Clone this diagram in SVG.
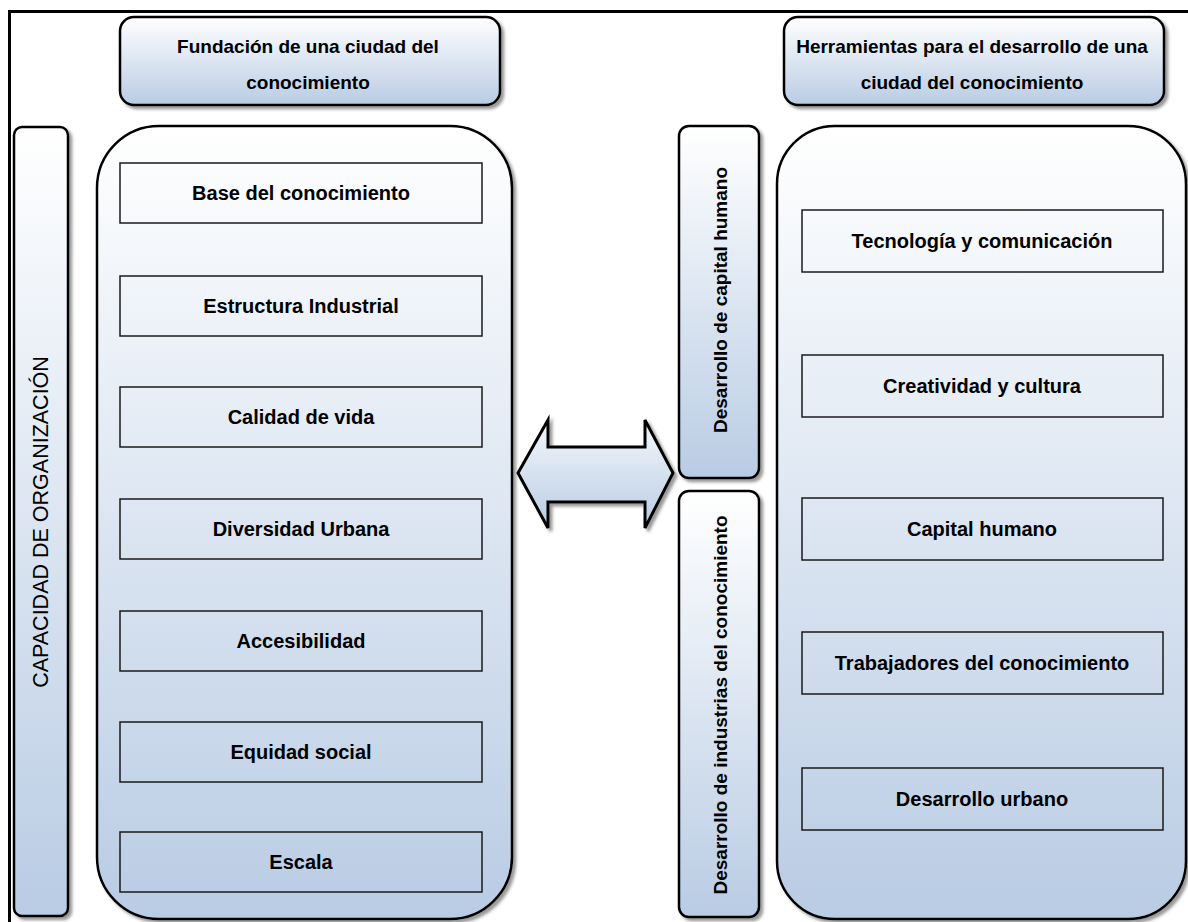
<svg xmlns="http://www.w3.org/2000/svg" width="1188" height="922" viewBox="0 0 1188 922">
<defs>
<linearGradient id="g" x1="0" y1="0" x2="0" y2="1">
<stop offset="0" stop-color="#ffffff"/>
<stop offset="1" stop-color="#b9cce4"/>
</linearGradient>
<linearGradient id="ga" x1="0" y1="0" x2="0" y2="1">
<stop offset="0" stop-color="#f4f7fb"/>
<stop offset="1" stop-color="#b9cce4"/>
</linearGradient>
<filter id="sh" x="-10%" y="-10%" width="130%" height="130%">
<feDropShadow dx="3" dy="3" stdDeviation="1.5" flood-color="#555" flood-opacity="0.6"/>
</filter>
</defs>
<style>
.frame{fill:none;stroke:#000;stroke-width:3}
.rnd{fill:url(#g);stroke:#000;stroke-width:2.5;filter:url(#sh)}
.item{fill:none;stroke:#1a1a1a;stroke-width:1.5}
.t{font-family:"Liberation Sans",Arial,sans-serif;font-weight:bold;fill:#000;text-anchor:middle}
.h{font-size:19px}
.i{font-size:20px}
.v{font-size:19px}
.c{font-family:"Liberation Sans",Arial,sans-serif;font-size:21.5px;fill:#000;text-anchor:middle}
</style>
<rect width="1188" height="922" fill="#fff"/>
<rect class="frame" x="9.5" y="11.5" width="1200" height="1000"/>

<g id="header-left">
<rect class="rnd" x="120" y="17" width="380" height="88" rx="14"/>
<text class="t h" x="308" y="53">Fundación de una ciudad del</text>
<text class="t h" x="308" y="89">conocimiento</text>
</g>
<g id="header-right">
<rect class="rnd" x="784" y="17" width="380" height="88" rx="14"/>
<text class="t h" x="972" y="53">Herramientas para el desarrollo de una</text>
<text class="t h" x="972" y="89">ciudad del conocimiento</text>
</g>

<g id="capacidad">
<rect class="rnd" x="14" y="127" width="54" height="789" rx="8"/>
<text class="c" transform="translate(48,522) rotate(-90)">CAPACIDAD DE ORGANIZACIÓN</text>
</g>

<g id="fundacion">
<rect class="rnd" x="97" y="126" width="415" height="793" rx="62"/>
<g id="f1"><rect class="item" x="120" y="163" width="362" height="60"/><text class="t i" x="301" y="200">Base del conocimiento</text></g>
<g id="f2"><rect class="item" x="120" y="276" width="362" height="60"/><text class="t i" x="301" y="313">Estructura Industrial</text></g>
<g id="f3"><rect class="item" x="120" y="387" width="362" height="60"/><text class="t i" x="301" y="424">Calidad de vida</text></g>
<g id="f4"><rect class="item" x="120" y="499" width="362" height="60"/><text class="t i" x="301" y="536">Diversidad Urbana</text></g>
<g id="f5"><rect class="item" x="120" y="611" width="362" height="60"/><text class="t i" x="301" y="648">Accesibilidad</text></g>
<g id="f6"><rect class="item" x="120" y="722" width="362" height="60"/><text class="t i" x="301" y="759">Equidad social</text></g>
<g id="f7"><rect class="item" x="120" y="832" width="362" height="60"/><text class="t i" x="301" y="869">Escala</text></g>
</g>

<g id="connectors">
<polygon points="518,473 548,420 548,447 645,447 645,420 673,473 645,528 645,502 548,502 548,528" fill="url(#ga)" stroke="#000" stroke-width="3" stroke-linejoin="miter" filter="url(#sh)"/>
</g>

<g id="capital-humano">
<rect class="rnd" x="679" y="126" width="80" height="352" rx="10"/>
<text class="t v" transform="translate(727,300) rotate(-90)">Desarrollo de capital humano</text>
</g>
<g id="industrias">
<rect class="rnd" x="679" y="491" width="80" height="426" rx="10"/>
<text class="t v" transform="translate(727,705) rotate(-90)">Desarrollo de industrias del conocimiento</text>
</g>

<g id="herramientas">
<rect class="rnd" x="777" y="126" width="409" height="793" rx="58"/>
<g id="h1"><rect class="item" x="802" y="210" width="361" height="62"/><text class="t i" x="982" y="248">Tecnología y comunicación</text></g>
<g id="h2"><rect class="item" x="802" y="355" width="361" height="62"/><text class="t i" x="982" y="393">Creatividad y cultura</text></g>
<g id="h3"><rect class="item" x="802" y="498" width="361" height="62"/><text class="t i" x="982" y="536">Capital humano</text></g>
<g id="h4"><rect class="item" x="802" y="632" width="361" height="62"/><text class="t i" x="982" y="670">Trabajadores del conocimiento</text></g>
<g id="h5"><rect class="item" x="802" y="768" width="361" height="62"/><text class="t i" x="982" y="806">Desarrollo urbano</text></g>
</g>
</svg>
